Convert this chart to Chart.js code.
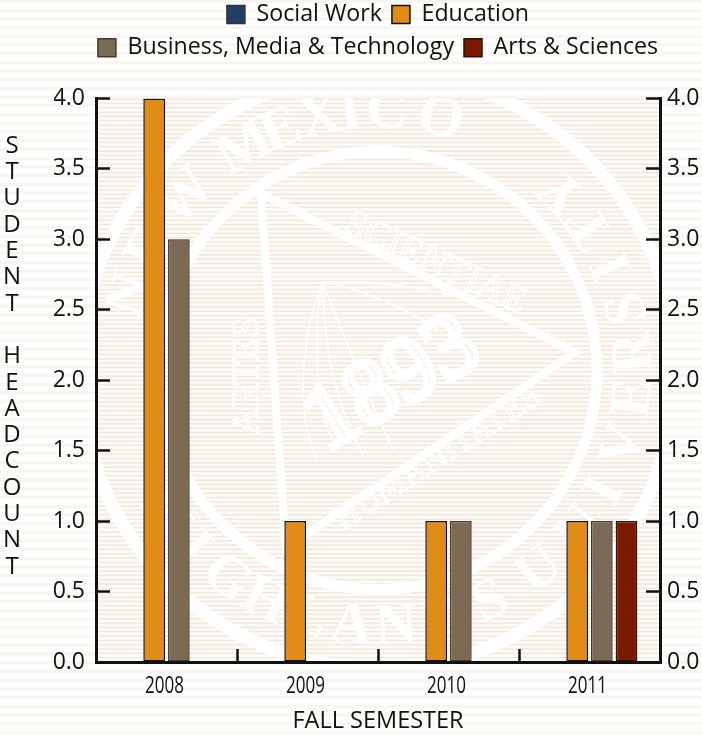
<!DOCTYPE html>
<html><head><meta charset="utf-8">
<script src="https://cdn.jsdelivr.net/npm/chart.js@4"></script>
<style>
html,body{margin:0;padding:0;width:702px;height:735px;overflow:hidden;background:#fff repeating-linear-gradient(180deg,#f8f6f1 0,#f8f6f1 3px,#fefefd 3px,#fefefd 8.7px);}
canvas{display:block}
</style></head><body>
<canvas id="c" width="702" height="735"></canvas>
<script>
const categories = ['2008','2009','2010','2011'];
const socialWork = [0,0,0,0];
const education = [4,1,1,1];
const businessMediaTech = [3,0,1,1];
const artsSciences = [0,0,0,1];
const yTitleLetters = ['S','T','U','D','E','N','T','','H','E','A','D','C','O','U','N','T'];
const FONT = '"Open Sans"';

const sealPlugin = {
  id:'seal',
  beforeDraw(chart){
    const {ctx, chartArea:a} = chart;
    ctx.save();
    ctx.beginPath(); ctx.rect(a.left,a.top,a.right-a.left,a.bottom-a.top); ctx.clip();
    for(let y=a.top;y<a.bottom;y+=4.33){
      ctx.fillStyle='#f2e7dc'; ctx.fillRect(a.left,y,a.right-a.left,1.6);
      ctx.fillStyle='#fcfaf6'; ctx.fillRect(a.left,y+1.6,a.right-a.left,2.73);
    }
    const cx=(a.left+a.right)/2, cy=a.top+272;
    ctx.strokeStyle='#fff'; ctx.fillStyle='#fff';
    ctx.lineWidth=13; ctx.beginPath(); ctx.arc(cx,cy,298,0,Math.PI*2); ctx.stroke();
    ctx.lineWidth=11; ctx.beginPath(); ctx.arc(cx,cy,219,0,Math.PI*2); ctx.stroke();
    const P=(dx,dy)=>[cx+dx,cy+dy];
    const tri=[P(-117,-177),P(197,-18),P(-92,178)];
    ctx.lineWidth=8; ctx.lineJoin='miter';
    ctx.beginPath(); tri.forEach((p,i)=>i?ctx.lineTo(...p):ctx.moveTo(...p)); ctx.closePath(); ctx.stroke();
    ctx.textAlign='center'; ctx.textBaseline='middle';
    const arc=(txt,angs,dir)=>{
      ctx.font='bold 58px "Liberation Serif"';
      [...txt].forEach((ch,i)=>{
        const t=angs[i]*Math.PI/180;
        ctx.save(); ctx.translate(cx+258*Math.cos(t),cy+258*Math.sin(t));
        ctx.rotate(t+dir*Math.PI/2); ctx.fillText(ch,0,0); ctx.restore();
      });
    };
    arc('NEWMEXICO',[-163,-152,-138,-121,-112,-103,-96,-88,-76],1);
    arc('HIGHLANDSUNIVERSITY',[146,136,126,116,106,96,86,75,64,51,38,28,17,6,-4,-14,-24,-34,-44],-1);
    const line=(txt,x,y,rot,size,lw)=>{
      ctx.save(); ctx.translate(cx+x,cy+y); ctx.rotate(rot*Math.PI/180);
      ctx.font=size+'px "Liberation Serif"'; ctx.lineWidth=lw; ctx.strokeText(txt,0,0); ctx.restore();
    };
    line('SCIENTIAE',57,-107,25,38,1.4);
    line('HUMANITATES',60,88,-33,34,1.4);
    line('ARTES',-130,6,-90,38,1.4);
    ctx.save(); ctx.translate(cx+15,cy+15); ctx.rotate(-30*Math.PI/180);
    ctx.font='92px "Liberation Serif"'; ctx.lineWidth=6; ctx.strokeText('1893',0,0); ctx.restore();
    ctx.lineWidth=1.6;
    [[-75,-40,-85,40,-60,90],[-65,-50,-65,40,-40,80],[-55,-50,-50,20,-15,85],[-45,-60,-20,0,15,80],[-50,-90,20,-70,60,-40],[-90,-85,0,-100,110,-65]].forEach(c=>{
      ctx.beginPath(); ctx.moveTo(cx-55,cy-88); ctx.bezierCurveTo(cx+c[0],cy+c[1],cx+c[2],cy+c[3],cx+c[4],cy+c[5]); ctx.stroke();
    });
    ctx.restore();
  },
  afterDraw(chart){
    const {ctx,scales}=chart;
    ctx.save(); ctx.fillStyle='#111'; ctx.font='24px '+FONT; ctx.textAlign='center'; ctx.textBaseline='middle';
    yTitleLetters.forEach((ch,i)=>ctx.fillText(ch,12,146+i*26.3));
    ctx.font='23px '+FONT;
    categories.forEach((lab,i)=>{
      ctx.save(); ctx.translate(scales.x.getPixelForTick(i)-2,scales.x.top+24); ctx.scale(0.74,1); ctx.fillText(lab,0,0); ctx.restore();
    });
    ctx.restore();
  }
};

const mk=(label,data,bg,bc)=>({label,data,backgroundColor:bg,borderColor:bc,borderWidth:1.5,borderSkipped:false});
new Chart(document.getElementById('c'),{
  type:'bar',
  data:{labels:categories,datasets:[
    mk('Social Work',socialWork,'#1f3f66','#333'),
    mk('Education',education,'#e08c17','#111'),
    mk('Business, Media & Technology',businessMediaTech,'#7c6a54','#443a30'),
    mk('Arts & Sciences',artsSciences,'#7a1800','#2a1510')
  ]},
  plugins:[sealPlugin],
  options:{
    responsive:false,animation:false,
    layout:{padding:{left:54,top:-7,right:0,bottom:0}},
    categoryPercentage:0.7,barPercentage:0.88,
    plugins:{
      tooltip:{enabled:false},
      subtitle:{display:true,text:'',weight:500,font:{size:1,lineHeight:1},padding:{top:0,bottom:28}},
      legend:{position:'top',labels:{boxWidth:18,boxHeight:18,padding:10,color:'#111',font:{family:FONT,size:23.2}}}
    },
    scales:{
      x:{
        grid:{offset:true,drawOnChartArea:false,tickLength:-13,tickWidth:2.5,tickColor:'#111'},
        border:{color:'#111',width:3},
        ticks:{display:false},
        title:{display:true,text:'FALL SEMESTER',color:'#111',font:{family:FONT,size:23.5},padding:{top:0,bottom:0}},
        afterFit(s){s.height=73;}
      },
      y:{
        position:'left',min:0,max:4,
        grid:{drawOnChartArea:false,tickLength:-14,tickWidth:2.5,tickColor:'#111'},
        border:{color:'#111',width:3},
        ticks:{stepSize:0.5,color:'#111',padding:25,font:{family:FONT,size:23},callback:v=>v.toFixed(1)},
        afterFit(s){s.width=42;}
      },
      y2:{
        position:'right',min:0,max:4,
        grid:{drawOnChartArea:false,tickLength:-14,tickWidth:2.5,tickColor:'#111'},
        border:{color:'#111',width:3},
        ticks:{stepSize:0.5,color:'#111',padding:21,font:{family:FONT,size:23},callback:v=>v.toFixed(1)},
        afterFit(s){s.width=42;}
      }
    }
  }
});
</script>
</body></html>
